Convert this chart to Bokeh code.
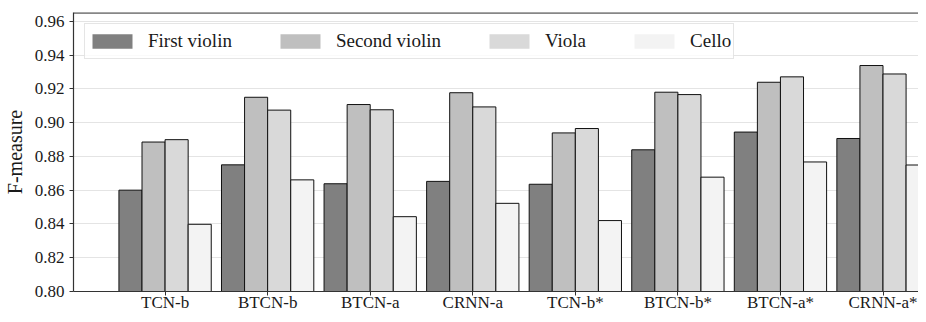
from bokeh.plotting import figure
from bokeh.models import Range1d, FixedTicker, PrintfTickFormatter, Legend, LegendItem, Span
from bokeh.embed import file_html
from bokeh.resources import INLINE

models = ["TCN-b", "BTCN-b", "BTCN-a", "CRNN-a", "TCN-b*", "BTCN-b*", "BTCN-a*", "CRNN-a*"]
first_violin = [0.860, 0.875, 0.8638, 0.8652, 0.8635, 0.8839, 0.8944, 0.8906]
second_violin = [0.8885, 0.9150, 0.9107, 0.9177, 0.8939, 0.9180, 0.9239, 0.9338]
viola = [0.8899, 0.9074, 0.9076, 0.9093, 0.8965, 0.9166, 0.9271, 0.9288]
cello = [0.8398, 0.8661, 0.8443, 0.8522, 0.8420, 0.8677, 0.8767, 0.8749]
series_names = ["First violin", "Second violin", "Viola", "Cello"]
y_ticks = [0.80, 0.82, 0.84, 0.86, 0.88, 0.90, 0.92, 0.94, 0.96]

series = [first_violin, second_violin, viola, cello]
colors = ["#808080", "#bfbfbf", "#d9d9d9", "#f3f3f3"]
FONT = "Liberation Serif"
TXT = "#1a1a1a"

p = figure(width=918, height=314, output_backend="svg", toolbar_location=None,
           x_range=Range1d(-0.893, 7.346), y_range=Range1d(0.80, 0.9652))
p.min_border_left = 71
p.min_border_right = 0
p.min_border_top = 12
p.min_border_bottom = 14
p.outline_line_color = None
p.background_fill_color = "white"

bw = 0.225
offsets = [-1.5 * bw, -0.5 * bw, 0.5 * bw, 1.5 * bw]
xs = list(range(len(models)))
items = []
for vals, col, name, off in zip(series, colors, series_names, offsets):
    xpos = [x + off for x in xs]
    r = p.vbar(x=xpos, top=vals, bottom=0, width=bw, fill_color=col, line_color=None)
    p.vbar(x=xpos, top=vals, bottom=0, width=bw, fill_color=None, line_color="#111111", line_width=1)
    items.append(LegendItem(label=name, renderers=[r]))

legend = Legend(items=items, orientation="horizontal", location="top_left")
legend.margin = 11
legend.padding = 2
legend.spacing = 43
legend.glyph_width = 50
legend.glyph_height = 18
legend.label_standoff = 11
legend.label_height = 30
legend.label_text_font = FONT
legend.label_text_font_size = "19px"
legend.label_text_color = TXT
legend.border_line_color = "#cccccc"
legend.border_line_width = 1
legend.background_fill_alpha = 0.8
p.add_layout(legend, "center")

top_line = Span(location=0.9650, dimension="width", line_color="#111111", line_width=1.2)
p.add_layout(top_line)

p.xgrid.grid_line_color = None
p.ygrid.grid_line_color = "#e4e4e4"
p.ygrid.grid_line_width = 1.2

p.yaxis.ticker = FixedTicker(ticks=y_ticks)
p.yaxis.formatter = PrintfTickFormatter(format="%.2f")
p.yaxis.axis_label = "F-measure"
p.yaxis.axis_label_text_font = FONT
p.yaxis.axis_label_text_font_style = "normal"
p.yaxis.axis_label_text_font_size = "20px"
p.yaxis.axis_label_text_color = TXT
p.yaxis.axis_label_standoff = 6
p.yaxis.major_label_standoff = 5

p.xaxis.ticker = FixedTicker(ticks=xs)
p.xaxis.major_label_overrides = {x: m for x, m in zip(xs, models)}
p.xaxis.major_label_standoff = -3

for ax in (p.xaxis, p.yaxis):
    ax.major_label_text_font = FONT
    ax.major_label_text_font_size = "17px"
    ax.major_label_text_color = TXT
    ax.axis_line_color = "#333333"
    ax.axis_line_width = 1.2
    ax.major_tick_line_color = "#333333"
    ax.major_tick_out = 4
    ax.major_tick_in = 0
    ax.minor_tick_line_color = None

open("out.html", "w").write(file_html(p, INLINE))
